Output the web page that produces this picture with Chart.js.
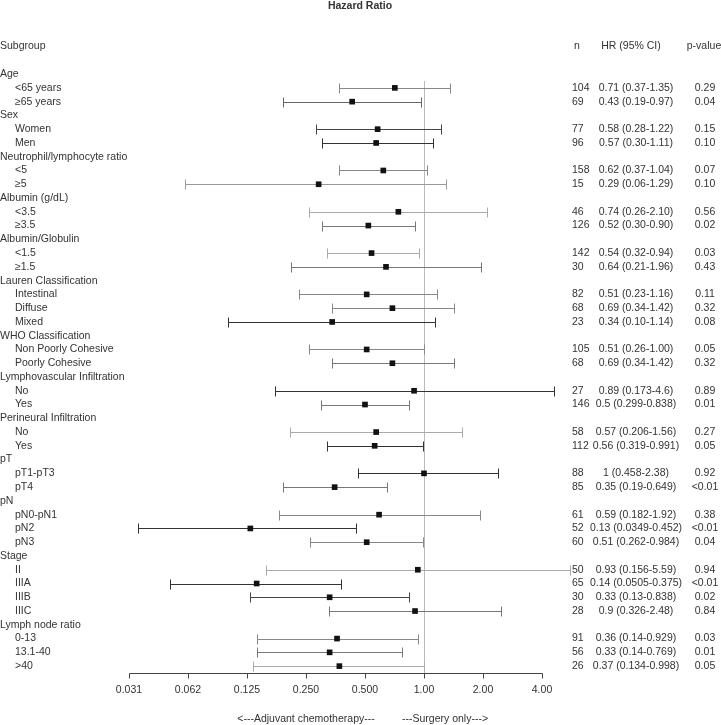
<!DOCTYPE html>
<html>
<head>
<meta charset="utf-8">
<script src="https://cdn.jsdelivr.net/npm/chart.js@4"></script>
<style>
  html, body { margin: 0; padding: 0; background: #fff; }
  #forest { display: block; }
</style>
</head>
<body>
<canvas id="forest" width="721" height="725"></canvas>
<script>
// rows of the forest plot, top to bottom
const subgroups = ["Age", "<65 years", "≥65 years", "Sex", "Women", "Men",
  "Neutrophil/lymphocyte ratio", "<5", "≥5", "Albumin (g/dL)", "<3.5", "≥3.5",
  "Albumin/Globulin", "<1.5", "≥1.5", "Lauren Classification", "Intestinal", "Diffuse", "Mixed",
  "WHO Classification", "Non Poorly Cohesive", "Poorly Cohesive",
  "Lymphovascular Infiltration", "No", "Yes", "Perineural Infiltration", "No", "Yes",
  "pT", "pT1-pT3", "pT4", "pN", "pN0-pN1", "pN2", "pN3",
  "Stage", "II", "IIIA", "IIIB", "IIIC", "Lymph node ratio", "0-13", "13.1-40", ">40"];
const level = [0,1,1, 0,1,1, 0,1,1, 0,1,1, 0,1,1, 0,1,1,1, 0,1,1, 0,1,1, 0,1,1,
  0,1,1, 0,1,1,1, 0,1,1,1,1, 0,1,1,1];
const nPatients = [null,104,69, null,77,96, null,158,15, null,46,126, null,142,30,
  null,82,68,23, null,105,68, null,27,146, null,58,112, null,88,85, null,61,52,60,
  null,50,65,30,28, null,91,56,26];
const hr = [null,0.71,0.43, null,0.58,0.57, null,0.62,0.29, null,0.74,0.52, null,0.54,0.64,
  null,0.51,0.69,0.34, null,0.51,0.69, null,0.89,0.5, null,0.57,0.56, null,1,0.35,
  null,0.59,0.13,0.51, null,0.93,0.14,0.33,0.9, null,0.36,0.33,0.37];
const ciLow = [null,0.37,0.19, null,0.28,0.30, null,0.37,0.06, null,0.26,0.30, null,0.32,0.21,
  null,0.23,0.34,0.10, null,0.26,0.34, null,0.173,0.299, null,0.206,0.319, null,0.458,0.19,
  null,0.182,0.0349,0.262, null,0.156,0.0505,0.13,0.326, null,0.14,0.14,0.134];
const ciHigh = [null,1.35,0.97, null,1.22,1.11, null,1.04,1.29, null,2.10,0.90, null,0.94,1.96,
  null,1.16,1.42,1.14, null,1.00,1.42, null,4.6,0.838, null,1.56,0.991, null,2.38,0.649,
  null,1.92,0.452,0.984, null,5.59,0.375,0.838,2.48, null,0.929,0.769,0.998];
const hrText = ["","0.71 (0.37-1.35)","0.43 (0.19-0.97)", "","0.58 (0.28-1.22)","0.57 (0.30-1.11)",
  "","0.62 (0.37-1.04)","0.29 (0.06-1.29)", "","0.74 (0.26-2.10)","0.52 (0.30-0.90)",
  "","0.54 (0.32-0.94)","0.64 (0.21-1.96)", "","0.51 (0.23-1.16)","0.69 (0.34-1.42)","0.34 (0.10-1.14)",
  "","0.51 (0.26-1.00)","0.69 (0.34-1.42)", "","0.89 (0.173-4.6)","0.5 (0.299-0.838)",
  "","0.57 (0.206-1.56)","0.56 (0.319-0.991)", "","1 (0.458-2.38)","0.35 (0.19-0.649)",
  "","0.59 (0.182-1.92)","0.13 (0.0349-0.452)","0.51 (0.262-0.984)",
  "","0.93 (0.156-5.59)","0.14 (0.0505-0.375)","0.33 (0.13-0.838)","0.9 (0.326-2.48)",
  "","0.36 (0.14-0.929)","0.33 (0.14-0.769)","0.37 (0.134-0.998)"];
const pValue = ["","0.29","0.04", "","0.15","0.10", "","0.07","0.10", "","0.56","0.02", "","0.03","0.43",
  "","0.11","0.32","0.08", "","0.05","0.32", "","0.89","0.01", "","0.27","0.05", "","0.92","<0.01",
  "","0.38","<0.01","0.04", "","0.94","<0.01","0.02","0.84", "","0.03","0.01","0.05"];
const tickValues = [0.03125, 0.0625, 0.125, 0.25, 0.5, 1, 2, 4];
const tickLabels = ["0.031", "0.062", "0.125", "0.250", "0.500", "1.00", "2.00", "4.00"];

// grey level of each whisker, as it looks in the original
const ciShade = [null,'#888','#666', null,'#444','#333', null,'#888','#999', null,'#aaa','#777',
  null,'#aaa','#777', null,'#888','#888','#333', null,'#888','#777', null,'#333','#777',
  null,'#aaa','#333', null,'#333','#777', null,'#888','#333','#888',
  null,'#aaa','#333','#444','#777', null,'#888','#777','#aaa'];

const FAMILY = '"Liberation Sans", Arial, sans-serif';
const FONT = '10.5px ' + FAMILY;
const TXT = '#333';

const points = [];
hr.forEach((v, i) => { if (v !== null) points.push({x: v, y: i}); });

const forestPlugin = {
  id: 'forest',
  beforeDatasetsDraw(chart) {
    const ctx = chart.ctx, xs = chart.scales.x, ys = chart.scales.y, area = chart.chartArea;
    ctx.save();
    ctx.lineWidth = 1;
    // x axis line and ticks
    const axisY = Math.round(area.bottom) + 0.5;
    ctx.strokeStyle = '#444';
    ctx.beginPath();
    ctx.moveTo(Math.round(xs.getPixelForValue(tickValues[0])) + 0.5, axisY);
    ctx.lineTo(Math.round(xs.getPixelForValue(tickValues[tickValues.length - 1])) + 0.5, axisY);
    tickValues.forEach(v => {
      const tx = Math.round(xs.getPixelForValue(v)) + 0.5;
      ctx.moveTo(tx, axisY);
      ctx.lineTo(tx, axisY + 5);
    });
    ctx.stroke();
    // reference line at HR = 1
    const x1 = Math.round(xs.getPixelForValue(1)) + 0.5;
    ctx.strokeStyle = '#bbb';
    ctx.beginPath();
    ctx.moveTo(x1, area.top);
    ctx.lineTo(x1, area.bottom);
    ctx.stroke();
    // confidence intervals
    for (let i = 0; i < hr.length; i++) {
      if (hr[i] === null) continue;
      const y = Math.round(ys.getPixelForValue(i)) + 0.5;
      const a = Math.round(xs.getPixelForValue(ciLow[i])) + 0.5;
      const b = Math.round(xs.getPixelForValue(ciHigh[i])) + 0.5;
      ctx.strokeStyle = ciShade[i];
      ctx.beginPath();
      ctx.moveTo(a, y); ctx.lineTo(b, y);
      ctx.moveTo(a, y - 5); ctx.lineTo(a, y + 5);
      ctx.moveTo(b, y - 5); ctx.lineTo(b, y + 5);
      ctx.stroke();
    }
    ctx.restore();
  },
  afterDraw(chart) {
    const ctx = chart.ctx, xs = chart.scales.x, ys = chart.scales.y;
    ctx.save();
    ctx.fillStyle = TXT;
    ctx.textBaseline = 'middle';
    ctx.font = 'bold ' + FONT;
    ctx.textAlign = 'center';
    ctx.fillText('Hazard Ratio', 360, 6);
    ctx.font = FONT;
    // x tick labels
    tickValues.forEach((v, i) => ctx.fillText(tickLabels[i], xs.getPixelForValue(v), 690));
    const headY = ys.getPixelForValue(-2);
    ctx.textAlign = 'left';
    ctx.fillText('Subgroup', 0, headY);
    ctx.fillText('n', 574, headY);
    ctx.textAlign = 'center';
    ctx.fillText('HR (95% CI)', 631, headY);
    ctx.fillText('p-value', 704, headY);
    for (let i = 0; i < subgroups.length; i++) {
      const y = ys.getPixelForValue(i);
      ctx.textAlign = 'left';
      ctx.fillText(subgroups[i], level[i] ? 15 : 0, y);
      if (nPatients[i] !== null) ctx.fillText(String(nPatients[i]), 572, y);
      ctx.textAlign = 'center';
      ctx.fillText(hrText[i], 636, y);
      ctx.fillText(pValue[i], 705, y);
    }
    ctx.fillText('<---Adjuvant chemotherapy---', 306, 719);
    ctx.fillText('---Surgery only--->', 445, 719);
    ctx.restore();
  }
};

new Chart(document.getElementById('forest'), {
  type: 'scatter',
  data: {
    datasets: [{
      data: points,
      pointStyle: 'rect',
      pointRadius: 4,
      pointHoverRadius: 4,
      backgroundColor: '#111',
      borderColor: '#111',
      borderWidth: 0
    }]
  },
  options: {
    responsive: false,
    animation: false,
    events: [],
    layout: { padding: { left: 129, right: 179, top: 81, bottom: 52 } },
    plugins: { legend: { display: false }, tooltip: { enabled: false } },
    scales: {
      x: {
        type: 'logarithmic',
        display: false,
        min: tickValues[0],
        max: tickValues[tickValues.length - 1]
      },
      y: {
        type: 'linear',
        reverse: true,
        min: 0.5,
        max: subgroups.length - 0.5,
        display: false
      }
    }
  },
  plugins: [forestPlugin]
});
</script>
</body>
</html>
